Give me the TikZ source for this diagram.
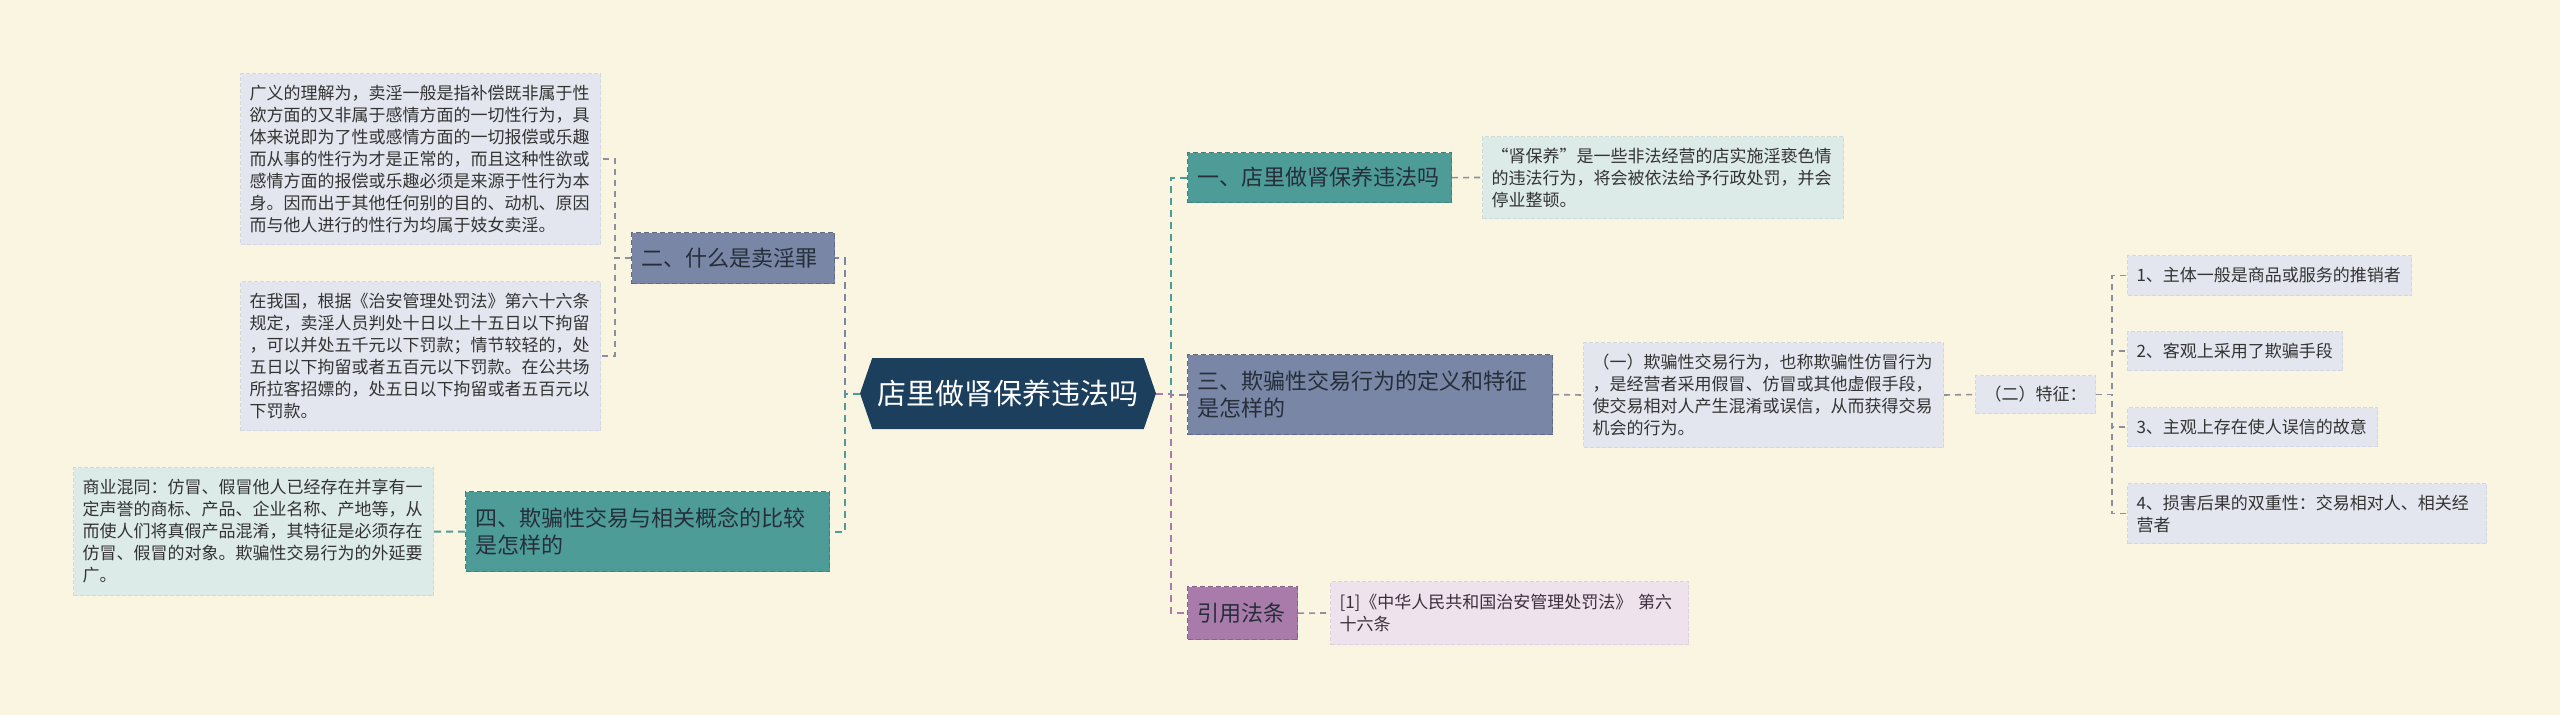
\documentclass[tikz,border=0pt]{standalone}
\usepackage{fontspec}
\setmainfont{Noto Sans CJK SC}
\usetikzlibrary{shapes.symbols}
\definecolor{bg}{HTML}{FAF5E0}
\definecolor{rootfill}{HTML}{1C3F5E}
\definecolor{teal}{HTML}{4E9C98}
\definecolor{tealb}{HTML}{3E807C}
\definecolor{slate}{HTML}{7986A5}
\definecolor{slateb}{HTML}{5E6A88}
\definecolor{purp}{HTML}{A87BAA}
\definecolor{purpb}{HTML}{8A5F8D}
\definecolor{lgray}{HTML}{E3E6EE}
\definecolor{lgrayb}{HTML}{D3D7E2}
\definecolor{lteal}{HTML}{DCEAE8}
\definecolor{ltealb}{HTML}{CADDDA}
\definecolor{lpink}{HTML}{EEE2EC}
\definecolor{lpinkb}{HTML}{DED0DC}
\definecolor{txt}{HTML}{333333}
\definecolor{ptxt}{HTML}{3D2E3D}
\definecolor{btxt}{HTML}{262E3A}
\definecolor{cgray}{HTML}{8C909C}
\tikzset{
  box/.style={rectangle, anchor=north west, align=left, inner ysep=0pt},
  leaf/.style={box, inner xsep=9pt, font=\fontsize{17}{22}\selectfont, text=txt, line width=1pt, dash pattern=on 4pt off 2pt},
  leafgray/.style={leaf, fill=lgray, draw=lgrayb},
  leafteal/.style={leaf, fill=lteal, draw=ltealb},
  leafpink/.style={leaf, fill=lpink, draw=lpinkb, text=ptxt},
  branch/.style={box, inner xsep=10pt, font=\fontsize{22}{27}\selectfont, text=btxt, line width=1.2pt, dash pattern=on 5pt off 3pt},
  bteal/.style={branch, fill=teal, draw=tealb},
  bslate/.style={branch, fill=slate, draw=slateb},
  bpurp/.style={branch, fill=purp, draw=purpb},
  conn/.style={line width=2pt, dash pattern=on 7pt off 5pt},
  sconn/.style={line width=1.6pt, dash pattern=on 6pt off 5pt, draw=cgray},
}
\begin{document}
\begin{tikzpicture}[x=1pt,y=-1pt]
\useasboundingbox (0,0) rectangle (2560,715);
\fill[bg] (0,0) rectangle (2560,715);

% root
\node[signal, signal to=west and east, signal pointer angle=142, fill=rootfill, text=white,
  font=\fontsize{29}{34}\selectfont, minimum width=296pt, minimum height=71pt, inner sep=0pt]
  (root) at (1008,393.5) {店里做肾保养违法吗};

% left side
\node[bslate, minimum width=203pt, minimum height=51pt, text width=183pt] (b2) at (631,232) {二、什么是卖淫罪};
\node[leafgray, minimum width=360pt, minimum height=171pt, text width=342pt] (lA) at (240,73)
 {广义的理解为，卖淫一般是指补偿既非属于性\\欲方面的又非属于感情方面的一切性行为，具\\体来说即为了性或感情方面的一切报偿或乐趣\\而从事的性行为才是正常的，而且这种性欲或\\感情方面的报偿或乐趣必须是来源于性行为本\\身。因而出于其他任何别的目的、动机、原因\\而与他人进行的性行为均属于妓女卖淫。};
\node[leafgray, minimum width=360pt, minimum height=149pt, text width=342pt] (lB) at (240,281)
 {在我国，根据《治安管理处罚法》第六十六条\\规定，卖淫人员判处十日以上十五日以下拘留\\，可以并处五千元以下罚款；情节较轻的，处\\五日以下拘留或者五百元以下罚款。在公共场\\所拉客招嫖的，处五日以下拘留或者五百元以\\下罚款。};
\node[bteal, minimum width=364pt, minimum height=80pt, text width=344pt] (b4) at (465,491)
 {四、欺骗性交易与相关概念的比较\\是怎样的};
\node[leafteal, minimum width=360pt, minimum height=128pt, text width=342pt] (lC) at (73,467)
 {商业混同：仿冒、假冒他人已经存在并享有一\\定声誉的商标、产品、企业名称、产地等，从\\而使人们将真假产品混淆，其特征是必须存在\\仿冒、假冒的对象。欺骗性交易行为的外延要\\广。};

% right side
\node[bteal, minimum width=264pt, minimum height=50pt, text width=244pt] (b1) at (1187,152) {一、店里做肾保养违法吗};
\node[leafteal, minimum width=361pt, minimum height=82pt, text width=343pt] (l1) at (1482,136)
 {“肾保养”是一些非法经营的店实施淫亵色情\\的违法行为，将会被依法给予行政处罚，并会\\停业整顿。};
\node[bslate, minimum width=365pt, minimum height=80pt, text width=345pt] (b3) at (1187,354)
 {三、欺骗性交易行为的定义和特征\\是怎样的};
\node[leafgray, minimum width=360pt, minimum height=105pt, text width=342pt] (l3) at (1583,342)
 {（一）欺骗性交易行为，也称欺骗性仿冒行为\\，是经营者采用假冒、仿冒或其他虚假手段，\\使交易相对人产生混淆或误信，从而获得交易\\机会的行为。};
\node[leafgray, minimum width=120pt, minimum height=38pt, text width=102pt] (f0) at (1975,375) {（二）特征：};
\node[leafgray, minimum width=284pt, minimum height=40pt, text width=266pt] (F1) at (2127,255) {1、主体一般是商品或服务的推销者};
\node[leafgray, minimum width=215pt, minimum height=39pt, text width=197pt] (F2) at (2127,331) {2、客观上采用了欺骗手段};
\node[leafgray, minimum width=250pt, minimum height=39pt, text width=232pt] (F3) at (2127,407) {3、主观上存在使人误信的故意};
\node[leafgray, minimum width=359pt, minimum height=60pt, text width=341pt] (F4) at (2127,483) {4、损害后果的双重性：交易相对人、相关经\\营者};
\node[bpurp, minimum width=110pt, minimum height=53pt, text width=90pt] (bR) at (1187,586) {引用法条};
\node[leafpink, minimum width=358pt, minimum height=63pt, text width=340pt] (lR) at (1330,581)
 {[1]《中华人民共和国治安管理处罚法》 第六\\十六条};

% connectors
\draw[conn, draw=slate] (root.west) -- ++(-15,0) |- (b2.east);
\draw[conn, draw=teal] (root.west) -- ++(-15,0) |- (b4.east);
\draw[sconn] (b2.west) -- ++(-16,0) |- (lA.east);
\draw[sconn] (b2.west) -- ++(-16,0) |- (lB.east);
\draw[conn, draw=teal] (b4.west) -- (lC.east);

\draw[conn, draw=teal] (root.east) -- ++(15,0) |- (b1.west);
\draw[conn, draw=slate] (root.east) -- ++(15,0) |- (b3.west);
\draw[conn, draw=purp] (root.east) -- ++(15,0) |- (bR.west);
\draw[sconn] (b1.east) -- (l1.west);
\draw[sconn] (b3.east) -- (l3.west);
\draw[sconn] (l3.east) -- (f0.west);
\draw[sconn] (f0.east) -- ++(16,0) |- (F1.west);
\draw[sconn] (f0.east) -- ++(16,0) |- (F2.west);
\draw[sconn] (f0.east) -- ++(16,0) |- (F3.west);
\draw[sconn] (f0.east) -- ++(16,0) |- (F4.west);
\draw[sconn] (bR.east) -- (lR.west);
\end{tikzpicture}
\end{document}
